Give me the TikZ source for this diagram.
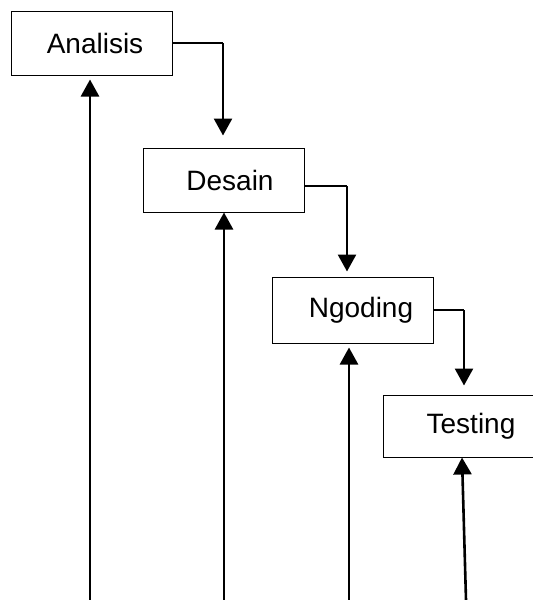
\documentclass[tikz,border=0pt]{standalone}
\usepackage{fontspec}
\setmainfont{Liberation Sans}
\usepackage{tikz}
\usetikzlibrary{arrows.meta}
\usetikzlibrary{calc}

\tikzset{
  stage/.style={draw, line width=1pt, minimum width=161pt, minimum height=64pt, inner sep=0pt, font=\fontsize{28}{32}\selectfont},
  flow/.style={line width=2.6pt, -{Triangle[width=18pt,length=17pt]}},
  link/.style={line width=1.3pt}
}

\begin{document}
\begin{tikzpicture}[x=1pt,y=-1pt]
\useasboundingbox (0,0) rectangle (533,600);

\node[stage] (ana) at (92,43) {\hspace*{6pt}Analisis};
\node[stage] (des) at (224,180) {\hspace*{12pt}Desain};
\node[stage,minimum height=66pt] (ngo) at (353,310) {\hspace*{16pt}Ngoding};
\node[stage,minimum height=62pt] (tes) at (464,426) {\hspace*{14pt}Testing};

% steps down
\coordinate (e2) at ([yshift=-6pt]des.east);
\coordinate (k1) at (223,0 |- ana.east);
\coordinate (k2) at (347,0 |- e2);
\coordinate (k3) at (464,0 |- ngo.east);
\draw[link] (ana.east) -- (k1);
\draw[flow,shorten >=12pt] (k1) -- (k1 |- des.north);
\draw[link] (e2) -- (k2);
\draw[flow,shorten >=5pt] (k2) -- (k2 |- ngo.north);
\draw[link] (ngo.east) -- (k3);
\draw[flow,shorten >=9pt] (k3) -- (k3 |- tes.north);

% arrows up
\coordinate (b1) at (90,600);
\coordinate (b2) at (224,600);
\coordinate (b3) at (349,600);
\coordinate (b4) at (466,600);
\draw[flow,shorten >=4pt] (b1) -- (b1 |- ana.south);
\draw[flow] (b2) -- (b2 |- des.south);
\draw[flow,shorten >=4pt] (b3) -- (b3 |- ngo.south);
\draw[flow] (b4) -- ([xshift=-2pt]tes.south);

\end{tikzpicture}
\end{document}
